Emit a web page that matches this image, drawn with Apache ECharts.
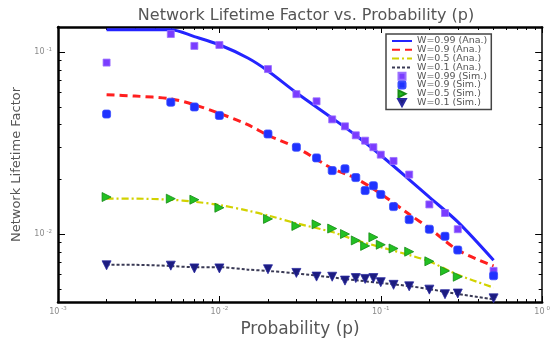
<!DOCTYPE html>
<html><head><meta charset="utf-8">
<script src="https://cdn.jsdelivr.net/npm/echarts@6/dist/echarts.min.js"></script>
<style>html,body{margin:0;padding:0;background:#fff}#c{width:553px;height:343px}</style>
</head><body><div id="c"></div>
<script>
// ---- data ----
const titleText = 'Network Lifetime Factor vs. Probability (p)';
const xName = 'Probability (p)';
const yName = 'Network Lifetime Factor';
const names = ['W=0.99 (Ana.)', 'W=0.9 (Ana.)', 'W=0.5 (Ana.)', 'W=0.1 (Ana.)',
               'W=0.99 (Sim.)', 'W=0.9 (Sim.)', 'W=0.5 (Sim.)', 'W=0.1 (Sim.)'];

const pAna   = [0.002, 0.003, 0.005, 0.007, 0.01, 0.015, 0.02, 0.03, 0.05, 0.07, 0.1, 0.15, 0.2, 0.3, 0.5];
const anaW099 = [0.133, 0.133, 0.133, 0.122, 0.110, 0.093, 0.079, 0.060, 0.0435, 0.035, 0.0272, 0.020, 0.0160, 0.0117, 0.0072];
const anaW09  = [0.0585, 0.0575, 0.0555, 0.0515, 0.0462, 0.040, 0.0350, 0.0300, 0.0230, 0.0203, 0.0167, 0.0129, 0.0108, 0.0082, 0.0067];
const anaW05  = [0.0157, 0.0157, 0.0155, 0.0151, 0.0145, 0.0135, 0.0127, 0.0115, 0.0103, 0.0093, 0.0085, 0.0077, 0.0071, 0.0060, 0.0051];
const anaW01  = [0.0068, 0.0068, 0.0067, 0.0066, 0.0066, 0.0064, 0.0063, 0.0061, 0.0058, 0.0056, 0.0054, 0.0052, 0.0050, 0.0047, 0.0044];

const pSim   = [0.002, 0.005, 0.007, 0.01, 0.02, 0.03, 0.04, 0.05, 0.06, 0.07, 0.08, 0.09, 0.1, 0.12, 0.15, 0.2, 0.25, 0.3, 0.5];
const simW099 = [0.0878, 0.126, 0.1084, 0.1097, 0.0809, 0.0589, 0.0538, 0.0428, 0.0392, 0.0350, 0.0327, 0.0301, 0.0274, 0.0253, 0.0213, 0.0146, 0.0131, 0.01067, 0.0063];
const simW09  = [0.0458, 0.0532, 0.0501, 0.0450, 0.0356, 0.0301, 0.0263, 0.0224, 0.0229, 0.0205, 0.0174, 0.0185, 0.01656, 0.0142, 0.01205, 0.01067, 0.00976, 0.0082, 0.00592];
const simW05  = [0.01603, 0.0157, 0.0155, 0.0140, 0.01216, 0.01112, 0.01135, 0.01076, 0.01004, 0.00926, 0.00864, 0.00964, 0.00877, 0.00836, 0.00803, 0.00711, 0.0063, 0.00585, null];
const simW01  = [0.00676, 0.00673, 0.0065, 0.0065, 0.00643, 0.00614, 0.00586, 0.00585, 0.00557, 0.00575, 0.00569, 0.00575, 0.00546, 0.00528, 0.00518, 0.00497, 0.00469, 0.00473, 0.00445];

const xMajorTicks = [0.001, 0.01, 0.1, 1];
const xMinorTicks = [0.002,0.003,0.004,0.005,0.006,0.007,0.008,0.009,
                     0.02,0.03,0.04,0.05,0.06,0.07,0.08,0.09,
                     0.2,0.3,0.4,0.5,0.6,0.7,0.8,0.9];
const yMajorTicks = [0.01, 0.1];
const yMinorTicks = [0.005,0.006,0.007,0.008,0.009,0.02,0.03,0.04,0.05,0.06,0.07,0.08,0.09];
const xMin = 0.001, xMax = 1, yMin = 0.00425, yMax = 0.1377;

// ---- build ----
function pairs(xs, ys) {
  const out = [];
  xs.forEach((x, i) => { if (ys[i] != null) out.push([x, ys[i]]); });
  return out;
}
function powLabel(v) {
  const e = Math.round(Math.log10(v));
  return '{b|10}{s|' + e + '}';
}
const labelRich = {
  b: { fontSize: 8, color: '#8a8a8a', fontFamily: 'DejaVu Sans' },
  s: { fontSize: 5.5, color: '#8a8a8a', fontFamily: 'DejaVu Sans', verticalAlign: 'top', padding: [0, 0, 5, 2] }
};

function xAxisDef(pos, ticks, len, lineW, labels) {
  return {
    type: 'log', logBase: 10, min: xMin, max: xMax, position: pos,
    axisLine: { show: lineW > 0, lineStyle: { color: '#000', width: lineW } },
    axisTick: { show: true, inside: true, length: len, customValues: ticks, lineStyle: { color: '#000', width: 1 } },
    axisLabel: labels ? { show: true, customValues: xMajorTicks, formatter: powLabel, rich: labelRich, margin: 4 } : { show: false },
    splitLine: { show: false }, minorTick: { show: false },
    name: labels ? xName : '', nameLocation: 'middle', nameGap: 19,
    nameTextStyle: { fontSize: 17, color: '#555', fontFamily: 'DejaVu Sans' }
  };
}
function yAxisDef(pos, ticks, len, lineW, labels) {
  return {
    type: 'log', logBase: 10, min: yMin, max: yMax, position: pos,
    axisLine: { show: lineW > 0, lineStyle: { color: '#000', width: lineW } },
    axisTick: { show: true, inside: true, length: len, customValues: ticks, lineStyle: { color: '#000', width: 1 } },
    axisLabel: labels ? { show: true, customValues: yMajorTicks, formatter: powLabel, rich: labelRich, margin: 6 } : { show: false },
    splitLine: { show: false }, minorTick: { show: false },
    name: labels ? yName : '', nameLocation: 'middle', nameGap: 31, nameRotate: 90,
    nameTextStyle: { fontSize: 13, color: '#555', fontFamily: 'DejaVu Sans' }
  };
}

const anaStyles = [
  { color: '#2424ff', width: 3, type: 'solid' },
  { color: '#ff1f1f', width: 3, type: [8, 5] },
  { color: '#d2d200', width: 2.2, type: [7, 3, 2, 3] },
  { color: '#3a3a55', width: 2, type: [3, 2] }
];
const anaData = [anaW099, anaW09, anaW05, anaW01];
const simData = [simW099, simW09, simW05, simW01];
const simStyles = [
  { symbol: 'rect', size: 7, rotate: 0, color: '#7a3cff', border: '#9a70ff', icon: 'path://M0,0L10,0L10,10L0,10Z' },
  { symbol: 'roundRect', size: 8, rotate: 0, color: '#1f32ff', border: '#3a4cff', icon: 'path://M2,0L8,0Q10,0 10,2L10,8Q10,10 8,10L2,10Q0,10 0,8L0,2Q0,0 2,0Z' },
  { symbol: 'triangle', size: 9, rotate: -90, color: '#22c022', border: '#158a15', icon: 'path://M0,0L10,5L0,10Z' },
  { symbol: 'triangle', size: 9, rotate: 180, color: '#1c1c80', border: '#2a2aa0', icon: 'path://M0,0L10,0L5,9Z' }
];

const series = [];
anaData.forEach((arr, i) => {
  series.push({
    name: names[i], type: 'line', data: pairs(pAna, arr), smooth: 0.3,
    showSymbol: false, symbol: 'none', xAxisIndex: 0, yAxisIndex: 0,
    lineStyle: anaStyles[i], itemStyle: { color: anaStyles[i].color }, z: 2
  });
});
simData.forEach((arr, i) => {
  const s = simStyles[i];
  series.push({
    name: names[4 + i], type: 'scatter', data: pairs(pSim, arr),
    symbol: s.symbol, symbolSize: s.size, symbolRotate: s.rotate,
    xAxisIndex: 0, yAxisIndex: 0,
    itemStyle: { color: s.color, borderColor: s.border, borderWidth: 0.8, opacity: 1 }, z: 3
  });
});

const legendData = names.map((n, i) => i < 4
  ? { name: n, itemStyle: { opacity: 0 } }
  : { name: n, icon: simStyles[i - 4].icon });

const chart = echarts.init(document.getElementById('c'), null, { renderer: 'canvas' });
chart.setOption({
  backgroundColor: '#fff',
  animation: false,
  textStyle: { fontFamily: 'Liberation Sans' },
  title: {
    text: titleText, left: 301, top: 3, textAlign: 'center',
    textStyle: { fontSize: 16, fontWeight: 'normal', color: '#555', fontFamily: 'DejaVu Sans' }
  },
  grid: { left: 58, right: 7, top: 27, bottom: 31, containLabel: false },
  legend: {
    orient: 'vertical', left: 386, top: 34,
    data: legendData,
    itemWidth: 20, itemHeight: 7, itemGap: -1.2, symbolKeepAspect: true,
    padding: [2, 4, 2, 5],
    borderColor: '#444', borderWidth: 1.5, backgroundColor: '#fff',
    textStyle: { fontSize: 9.5, color: '#555', lineHeight: 9, fontFamily: 'DejaVu Sans' }
  },
  xAxis: [
    xAxisDef('bottom', xMajorTicks, 6, 2.5, true),
    xAxisDef('bottom', xMinorTicks, 3, 0, false),
    xAxisDef('top', xMajorTicks, 6, 2.5, false),
    xAxisDef('top', xMinorTicks, 3, 0, false)
  ],
  yAxis: [
    yAxisDef('left', yMajorTicks, 7, 2.5, true),
    yAxisDef('left', yMinorTicks, 3.5, 0, false),
    yAxisDef('right', yMajorTicks, 7, 1.5, false),
    yAxisDef('right', yMinorTicks, 3.5, 0, false)
  ],
  series: series
});
</script></body></html>
